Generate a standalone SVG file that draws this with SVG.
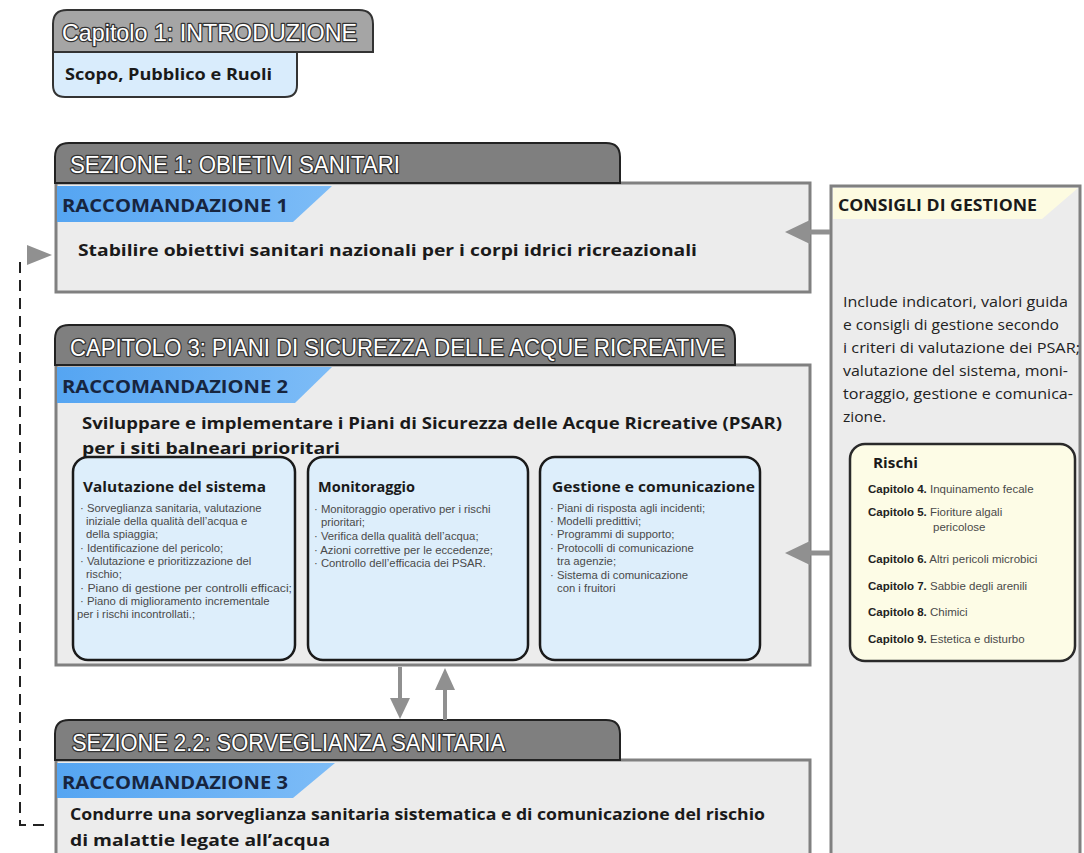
<svg xmlns="http://www.w3.org/2000/svg" width="1084" height="853" viewBox="0 0 1084 853">
<defs>
<linearGradient id="rib" x1="0" y1="0" x2="1" y2="0">
<stop offset="0" stop-color="#55a5f2"/><stop offset="1" stop-color="#7dbcf7"/>
</linearGradient>
<style>
.tab{fill:#7f7f7f;stroke:#222;stroke-width:2}
.body{fill:#ececec;stroke:#808080;stroke-width:3}
.rib{fill:url(#rib)}
.tabt{font-family:"Liberation Sans",Arial,sans-serif;font-size:24px;fill:#fff;stroke:#333;stroke-width:2.6;paint-order:stroke;stroke-linejoin:round}
.ribt{font-family:"Open Sans","Liberation Sans",sans-serif;font-weight:bold;font-size:17px;fill:#17253f}
.main{font-family:"Open Sans","Liberation Sans",sans-serif;font-weight:bold;font-size:16px;fill:#1a1a1a}
.sub{fill:#ddeefb;stroke:#1a1a1a;stroke-width:2.5}
.subt{font-family:"Open Sans","Liberation Sans",sans-serif;font-weight:bold;font-size:14.5px;fill:#1a1a1a}
.it{font-family:"Liberation Sans",Arial,sans-serif;font-size:11.3px;fill:#4a4a4a}
.par{font-family:"Open Sans","Liberation Sans",sans-serif;font-size:14px;fill:#222}
.ri{font-family:"Liberation Sans",Arial,sans-serif;font-size:11.5px;fill:#4a4a4a}
.rib2{font-weight:bold;fill:#222}
.arr{fill:#909090}
.arl{stroke:#909090;stroke-width:5;fill:none}
</style>
</defs>
<rect width="1084" height="853" fill="#fff"/>

<g id="intro">
<path d="M53,52 V24 Q53,10 67,10 H359 Q373,10 373,24 V52 Z" fill="#a5a5a5" stroke="#333" stroke-width="2"/>
<path d="M53,52 H297 V85 Q297,97 285,97 H65 Q53,97 53,85 Z" fill="#d9ecfc" stroke="#333" stroke-width="2"/>
<text x="62" y="41" class="tabt" font-size="22" textLength="295" lengthAdjust="spacingAndGlyphs">Capitolo 1: INTRODUZIONE</text>
<text x="65" y="80" class="main" font-size="15" textLength="207" lengthAdjust="spacingAndGlyphs">Scopo, Pubblico e Ruoli</text>
</g>

<g id="sezione1">
<rect x="56" y="183" width="754" height="109" class="body"/>
<path d="M55,183 V157 Q55,143 69,143 H606 Q620,143 620,157 V183 Z" class="tab"/>
<polygon points="57,186 332,186 293,222 57,222" class="rib"/>
<text x="70" y="173" class="tabt" textLength="330" lengthAdjust="spacingAndGlyphs">SEZIONE 1: OBIETIVI SANITARI</text>
<text x="62" y="212" class="ribt" textLength="226" lengthAdjust="spacingAndGlyphs">RACCOMANDAZIONE 1</text>
<text x="78" y="256" class="main" textLength="619" lengthAdjust="spacingAndGlyphs">Stabilire obiettivi sanitari nazionali per i corpi idrici ricreazionali</text>
</g>

<g id="capitolo3">
<rect x="56" y="365" width="754" height="300" class="body"/>
<path d="M55,365 V339 Q55,325 69,325 H721 Q735,325 735,339 V365 Z" class="tab"/>
<polygon points="57,367 332,367 295,403 57,403" class="rib"/>
<text x="70" y="356" class="tabt" textLength="655" lengthAdjust="spacingAndGlyphs">CAPITOLO 3: PIANI DI SICUREZZA DELLE ACQUE RICREATIVE</text>
<text x="62" y="393" class="ribt" textLength="226" lengthAdjust="spacingAndGlyphs">RACCOMANDAZIONE 2</text>
<text x="82" y="429" class="main" textLength="700" lengthAdjust="spacingAndGlyphs">Sviluppare e implementare i Piani di Sicurezza delle Acque Ricreative (PSAR)</text>
<text x="82" y="454" class="main" textLength="258" lengthAdjust="spacingAndGlyphs">per i siti balneari prioritari</text>
</g>

<g id="valutazione">
<rect x="73" y="457" width="222" height="203" rx="15" class="sub"/>
<text x="83" y="492" class="subt" textLength="183" lengthAdjust="spacingAndGlyphs">Valutazione del sistema</text>
<text class="it">
<tspan x="80" y="512">· Sorveglianza sanitaria, valutazione</tspan>
<tspan x="86" y="525">iniziale della qualità dell’acqua e</tspan>
<tspan x="86" y="538">della spiaggia;</tspan>
<tspan x="80" y="552">· Identificazione del pericolo;</tspan>
<tspan x="80" y="565">· Valutazione e prioritizzazione del</tspan>
<tspan x="86" y="578">rischio;</tspan>
<tspan x="80" y="592" textLength="212" lengthAdjust="spacingAndGlyphs">· Piano di gestione per controlli efficaci;</tspan>
<tspan x="80" y="605">· Piano di miglioramento incrementale</tspan>
<tspan x="77" y="618">per i rischi incontrollati.;</tspan>
</text>
</g>

<g id="monitoraggio">
<rect x="308" y="457" width="220" height="203" rx="15" class="sub"/>
<text x="318" y="492" class="subt" textLength="97" lengthAdjust="spacingAndGlyphs">Monitoraggio</text>
<text class="it">
<tspan x="314" y="513">· Monitoraggio operativo per i rischi</tspan>
<tspan x="321" y="526">prioritari;</tspan>
<tspan x="314" y="540">· Verifica della qualità dell’acqua;</tspan>
<tspan x="314" y="554">· Azioni correttive per le eccedenze;</tspan>
<tspan x="314" y="567">· Controllo dell’efficacia dei PSAR.</tspan>
</text>
</g>

<g id="gestione">
<rect x="540" y="457" width="220" height="203" rx="15" class="sub"/>
<text x="552" y="492" class="subt" textLength="203" lengthAdjust="spacingAndGlyphs">Gestione e comunicazione</text>
<text class="it">
<tspan x="550" y="512">· Piani di risposta agli incidenti;</tspan>
<tspan x="550" y="525">· Modelli predittivi;</tspan>
<tspan x="550" y="538">· Programmi di supporto;</tspan>
<tspan x="550" y="552">· Protocolli di comunicazione</tspan>
<tspan x="557" y="565">tra agenzie;</tspan>
<tspan x="550" y="579">· Sistema di comunicazione</tspan>
<tspan x="557" y="592">con i fruitori</tspan>
</text>
</g>

<g id="sezione22">
<rect x="56" y="760" width="754" height="100" class="body"/>
<path d="M55,760 V734 Q55,720 69,720 H606 Q620,720 620,734 V760 Z" class="tab"/>
<polygon points="57,763 335,763 293,798 57,798" class="rib"/>
<text x="72" y="751" class="tabt" textLength="433" lengthAdjust="spacingAndGlyphs">SEZIONE 2.2: SORVEGLIANZA SANITARIA</text>
<text x="62" y="789" class="ribt" textLength="226" lengthAdjust="spacingAndGlyphs">RACCOMANDAZIONE 3</text>
<text x="70" y="820" class="main" textLength="695" lengthAdjust="spacingAndGlyphs">Condurre una sorveglianza sanitaria sistematica e di comunicazione del rischio</text>
<text x="70" y="846" class="main" textLength="260" lengthAdjust="spacingAndGlyphs">di malattie legate all’acqua</text>
</g>

<g id="consigli">
<rect x="831" y="186" width="249" height="680" class="body"/>
<polygon points="833,188 1078,188 1042,219 833,219" fill="#fdfbe1"/>
<text x="838" y="211" class="main" font-size="14.5" textLength="199" lengthAdjust="spacingAndGlyphs">CONSIGLI DI GESTIONE</text>
<text class="par">
<tspan x="843" y="307" textLength="225" lengthAdjust="spacingAndGlyphs">Include indicatori, valori guida</tspan>
<tspan x="843" y="330" textLength="216" lengthAdjust="spacingAndGlyphs">e consigli di gestione secondo</tspan>
<tspan x="843" y="353" textLength="237" lengthAdjust="spacingAndGlyphs">i criteri di valutazione dei PSAR;</tspan>
<tspan x="843" y="376" textLength="225" lengthAdjust="spacingAndGlyphs">valutazione del sistema, moni-</tspan>
<tspan x="843" y="399" textLength="230" lengthAdjust="spacingAndGlyphs">toraggio, gestione e comunica-</tspan>
<tspan x="843" y="422" textLength="43" lengthAdjust="spacingAndGlyphs">zione.</tspan>
</text>
</g>

<g id="rischi">
<rect x="850" y="444" width="225" height="217" rx="15" fill="#fdfce6" stroke="#2a2a2a" stroke-width="2.5"/>
<text x="873" y="468" class="subt" textLength="45" lengthAdjust="spacingAndGlyphs">Rischi</text>
<text class="ri" x="868" y="493"><tspan class="rib2">Capitolo 4.</tspan> Inquinamento fecale</text>
<text class="ri" x="868" y="516"><tspan class="rib2">Capitolo 5.</tspan> Fioriture algali</text>
<text class="ri" x="933" y="531">pericolose</text>
<text class="ri" x="868" y="563"><tspan class="rib2">Capitolo 6.</tspan> Altri pericoli microbici</text>
<text class="ri" x="868" y="590"><tspan class="rib2">Capitolo 7.</tspan> Sabbie degli arenili</text>
<text class="ri" x="868" y="616"><tspan class="rib2">Capitolo 8.</tspan> Chimici</text>
<text class="ri" x="868" y="643"><tspan class="rib2">Capitolo 9.</tspan> Estetica e disturbo</text>
</g>

<g id="connectors">
<line x1="830" y1="232" x2="808" y2="232" class="arl"/>
<polygon points="785,232 810,220 810,244" class="arr"/>
<line x1="830" y1="553" x2="808" y2="553" class="arl"/>
<polygon points="785,553 810,541 810,565" class="arr"/>
<line x1="400" y1="667" x2="400" y2="700" stroke="#909090" stroke-width="4"/>
<polygon points="390,698 410,698 400,719" class="arr"/>
<line x1="445" y1="720" x2="445" y2="688" stroke="#909090" stroke-width="4"/>
<polygon points="435,690 455,690 445,668" class="arr"/>
<path d="M20,262 V825 H50" fill="none" stroke="#222" stroke-width="2" stroke-dasharray="11,7"/>
<polygon points="27,245 27,265 52,255" class="arr"/>
</g>
</svg>
